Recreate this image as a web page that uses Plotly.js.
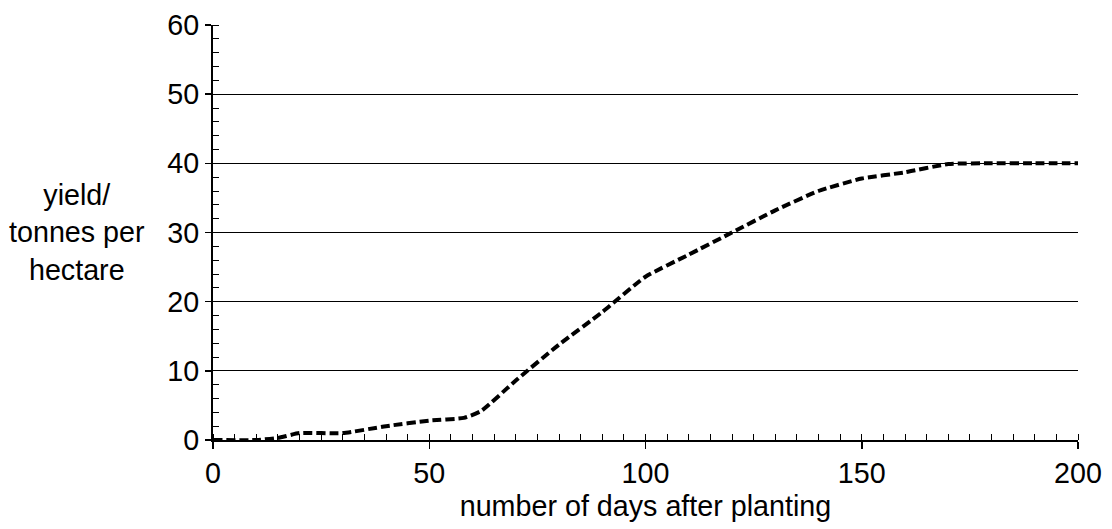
<!DOCTYPE html>
<html>
<head>
<meta charset="utf-8">
<script src="https://cdn.plot.ly/plotly-3.0.1.min.js"></script>
<style>html,body{margin:0;padding:0;background:#fff;}#chart{width:1112px;height:529px;}</style>
</head>
<body>
<div id="chart"></div>
<script>
const days = [0, 10, 15, 20, 30, 40, 50, 58, 62, 70, 80, 90, 100, 110, 120, 130, 140, 150, 160, 170, 180, 190, 200];
const yieldTonnes = [0, 0, 0.3, 1, 1, 2, 2.8, 3.2, 4.2, 8.6, 13.8, 18.5, 23.6, 26.8, 30, 33.2, 36, 37.8, 38.7, 39.9, 40, 40, 40];
const xTickVals = [0, 50, 100, 150, 200];
const yTickVals = [0, 10, 20, 30, 40, 50, 60];
const xTitle = 'number of days after planting';
const yTitleLines = ['yield/', 'tonnes per', 'hectare'];

const font = {family: '"Liberation Sans", Arial, Helvetica, sans-serif', size: 28.7, color: '#000'};

const trace = {
  x: days, y: yieldTonnes, type: 'scatter', mode: 'lines',
  line: {color: '#000', width: 4, dash: '9px,4px', shape: 'spline', smoothing: 0.5},
  hoverinfo: 'skip'
};

const layout = {
  width: 1112, height: 529,
  margin: {l: 213, r: 34, t: 25, b: 89},
  paper_bgcolor: '#fff', plot_bgcolor: '#fff',
  showlegend: false,
  font: font,
  xaxis: {
    range: [0, 200], tickvals: xTickVals, ticktext: xTickVals.map(String),
    ticks: 'outside', ticklen: 7, tickwidth: 1.5, tickcolor: '#000',
    showline: true, linewidth: 2, linecolor: '#000',
    showgrid: false, zeroline: false,
    minor: {dtick: 5, ticks: 'inside', ticklen: 6, tickwidth: 1, tickcolor: '#000', showgrid: false},
    tickfont: font,
    title: {text: xTitle, font: font, standoff: 7},
    fixedrange: true
  },
  yaxis: {
    range: [0, 60], tickvals: yTickVals, ticktext: yTickVals.map(String),
    ticks: 'outside', ticklen: 6, tickwidth: 1.5, tickcolor: '#000',
    showline: true, linewidth: 2, linecolor: '#000',
    showgrid: true, gridcolor: '#000', gridwidth: 1, zeroline: false,
    minor: {dtick: 2, ticks: 'inside', ticklen: 6, tickwidth: 1, tickcolor: '#000', showgrid: false},
    tickfont: font,
    fixedrange: true
  },
  annotations: [{
    xref: 'paper', yref: 'paper', x: -0.157, y: 0.5,
    xanchor: 'center', yanchor: 'middle',
    text: yTitleLines.join('<br>'), showarrow: false, align: 'center',
    font: font
  }]
};

Plotly.newPlot('chart', [trace], layout, {displayModeBar: false, staticPlot: true});
</script>
</body>
</html>
